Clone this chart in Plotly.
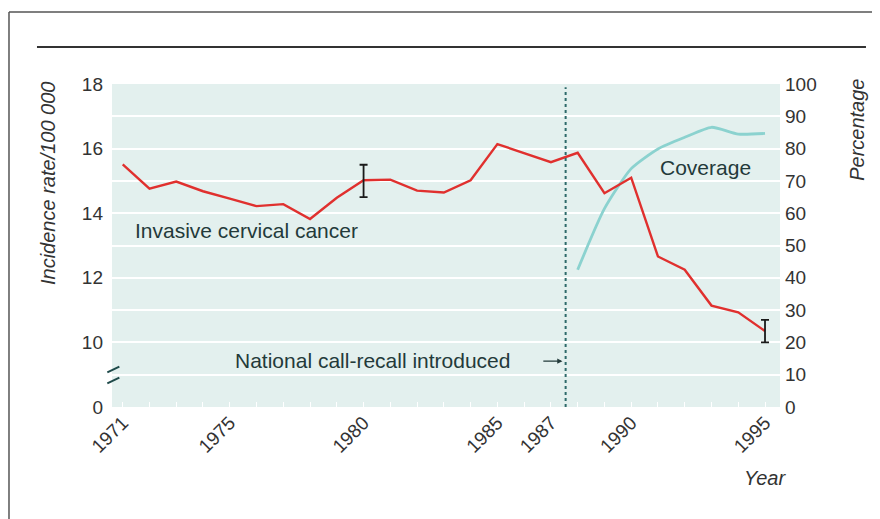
import plotly.graph_objects as go

# ---- data ----
years = list(range(1971, 1996))
incidence = [15.51, 14.76, 14.98, 14.68, 14.45, 14.22, 14.28, 13.82, 14.48, 15.02,
             15.04, 14.70, 14.64, 15.02, 16.14, 15.86, 15.58, 15.87, 14.62, 15.10,
             12.66, 12.25, 11.14, 10.93, 10.35]
coverage_years = [1988, 1989, 1990, 1991, 1992, 1993, 1994, 1995]
coverage = [42.5, 61.4, 73.8, 79.9, 83.5, 86.6, 84.5, 84.7]
err_years = [1980, 1995]
err_values = [15.0, 10.35]
err_sizes = [0.5, 0.35]
callrecall_year = 1987.55

xtick_vals = [1971, 1975, 1980, 1985, 1987, 1990, 1995]
xtick_text = [str(v) for v in xtick_vals]
left_tick_vals = [8, 10, 12, 14, 16, 18]
left_tick_text = ["0", "10", "12", "14", "16", "18"]
right_tick_vals = list(range(0, 101, 10))

RED = "#e0302e"
TEAL = "#8bd2cf"
DARK = "#233a3a"
TXT = "#333333"
FONT = "Liberation Sans, Arial, sans-serif"

fig = go.Figure()

# coverage on percentage axis (y, drawn below)
fig.add_trace(go.Scatter(x=coverage_years, y=coverage, mode="lines",
                         line=dict(color=TEAL, width=2.8, shape="spline", smoothing=0.6),
                         yaxis="y", hoverinfo="skip"))
# incidence on left axis (y2, overlay)
fig.add_trace(go.Scatter(x=years, y=incidence, mode="lines",
                         line=dict(color=RED, width=2.4), yaxis="y2", hoverinfo="skip"))
fig.add_trace(go.Scatter(x=err_years, y=err_values, mode="markers",
                         marker=dict(size=1, color="rgba(0,0,0,0)"),
                         error_y=dict(type="data", array=err_sizes, visible=True,
                                      color="#1a1a1a", thickness=1.8, width=4),
                         yaxis="y2", hoverinfo="skip"))

# page body adds an 8px offset, so the figure is 872x511 and starts at (8, 8)
fig.update_layout(
    width=872, height=511,
    margin=dict(l=104, r=100, t=76, b=112),
    paper_bgcolor="white",
    plot_bgcolor="#e3f0ee",
    showlegend=False,
    font=dict(family=FONT, size=19, color=TXT),
    xaxis=dict(range=[1970.6, 1995.56], tickvals=xtick_vals, ticktext=xtick_text,
               tickangle=-45, showgrid=False, zeroline=False, showline=False,
               ticks="inside", ticklen=5, tickcolor="white",
               minor=dict(dtick=1, tick0=1971, ticks="inside", ticklen=5, tickcolor="white"),
               tickfont=dict(size=19, color=TXT)),
    yaxis=dict(range=[0, 100], side="right", tickvals=right_tick_vals,
               showgrid=True, gridcolor="white", gridwidth=1.5, zeroline=False,
               showline=False, ticks="", ticklabelstandoff=4,
               tickfont=dict(size=19, color=TXT)),
    yaxis2=dict(range=[8, 18], overlaying="y", side="left", tickvals=left_tick_vals,
                ticktext=left_tick_text, showgrid=False, zeroline=False,
                showline=False, ticks="", ticklabelstandoff=8,
                tickfont=dict(size=19, color=TXT)),
)

shapes = [
    # call-recall dotted line
    dict(type="line", xref="x", yref="paper", x0=callrecall_year, x1=callrecall_year,
         y0=0, y1=0.99, line=dict(color="#2e6a6a", width=2, dash="dot")),
    # axis break marks
    dict(type="line", xref="paper", yref="y2", x0=-0.007, x1=0.011, y0=9.07, y1=9.25,
         line=dict(color="#1f4a4a", width=2)),
    dict(type="line", xref="paper", yref="y2", x0=-0.007, x1=0.011, y0=8.73, y1=8.91,
         line=dict(color="#1f4a4a", width=2)),
    # header rule
    dict(type="line", xref="paper", yref="paper", x0=-0.1123, x1=1.1287, y0=1.1146, y1=1.1146,
         line=dict(color="#333", width=2)),
    # outer frame
    dict(type="line", xref="paper", yref="paper", x0=-0.1542, x1=1.16, y0=1.223, y1=1.223,
         line=dict(color="#555", width=1.5)),
    dict(type="line", xref="paper", yref="paper", x0=-0.1542, x1=-0.1542, y0=1.223, y1=-0.37,
         line=dict(color="#555", width=1.5)),
]
fig.update_layout(shapes=shapes)

ann = [
    dict(text="Invasive cervical cancer", x=1975.63, y=13.48, xref="x", yref="y2",
         showarrow=False, font=dict(size=21, color=DARK)),
    dict(text="Coverage", x=1992.76, y=15.42, xref="x", yref="y2",
         showarrow=False, font=dict(size=21, color=DARK)),
    dict(text="National call-recall introduced", x=1980.33, y=9.45, xref="x", yref="y2",
         showarrow=False, font=dict(size=21, color=DARK)),
    dict(text="", x=1987.43, y=9.42, ax=1986.66, ay=9.42, xref="x", yref="y2",
         axref="x", ayref="y2", showarrow=True, arrowhead=2, arrowsize=0.8,
         arrowwidth=1.3, arrowcolor=DARK),
    dict(text="<i>Incidence rate/100 000</i>", x=-0.0958, y=0.6935, xref="paper", yref="paper",
         xanchor="center", yanchor="middle",
         textangle=-90, showarrow=False, font=dict(size=20, color=TXT)),
    dict(text="<i>Percentage</i>", x=1.115, y=0.8576, xref="paper", yref="paper",
         xanchor="center", yanchor="middle",
         textangle=-90, showarrow=False, font=dict(size=20, color=TXT)),
    dict(text="<i>Year</i>", x=0.9775, y=-0.2198, xref="paper", yref="paper",
         xanchor="center", yanchor="middle",
         showarrow=False, font=dict(size=20, color=TXT)),
]
fig.update_layout(annotations=ann)

fig.write_html("out.html")
